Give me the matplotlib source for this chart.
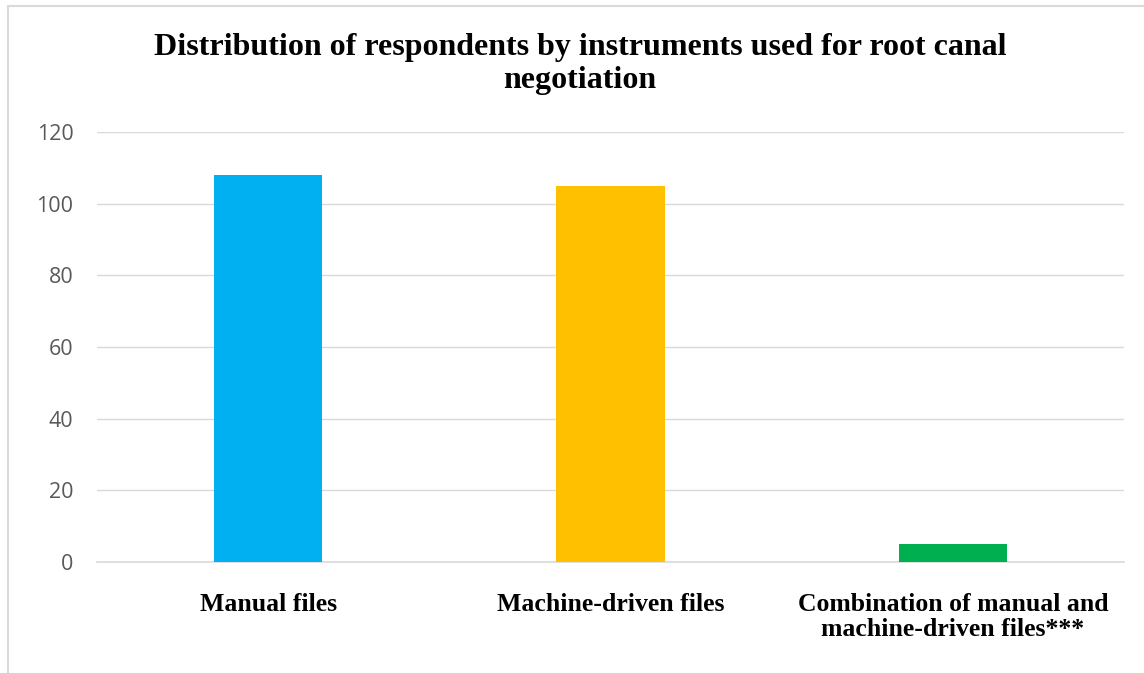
import matplotlib.pyplot as plt
from matplotlib.patches import Rectangle

categories = ["Manual files", "Machine-driven files",
              "Combination of manual and\nmachine-driven files***"]
counts = [108, 105, 5]
colors = ["#00B0F0", "#FFC000", "#00B050"]
yticks = [0, 20, 40, 60, 80, 100, 120]

fig = plt.figure(figsize=(11.44, 6.73), dpi=100)
ax = fig.add_axes([0.0848, 0.165, 0.8977, 0.639])

x = range(len(categories))
ax.bar(x, counts, width=0.316, color=colors, zorder=3)

ax.set_xlim(-0.5, 2.5)
ax.set_ylim(0, 120)
ax.set_yticks(yticks)
ax.set_yticklabels([str(v) for v in yticks], fontsize=15.5, color="#595959",
                   family=["Open Sans", "DejaVu Sans"])
ax.set_xticks(list(x))
ax.set_xticklabels(categories, fontsize=18.5, fontweight="bold",
                   family=["Liberation Serif", "DejaVu Serif"], linespacing=1.15)
ax.tick_params(axis="both", length=0)
ax.tick_params(axis="x", pad=22)
ax.tick_params(axis="y", pad=17)
ax.grid(axis="y", color="#d9d9d9", linewidth=1, zorder=0)
for s in ["top", "right", "left"]:
    ax.spines[s].set_visible(False)
ax.spines["bottom"].set_color("#d9d9d9")
ax.spines["bottom"].set_linewidth(1.2)

fig.text(0.507, 0.905, "Distribution of respondents by instruments used for root canal\nnegotiation",
         ha="center", va="center", fontsize=23, fontweight="bold",
         family=["Liberation Serif", "DejaVu Serif"], linespacing=1.15)

# chart frame (only left and top edges visible)
fig.patches.append(Rectangle((8 / 1144, -0.1), 1.2, 1.1 - 6 / 673, transform=fig.transFigure,
                             fill=False, edgecolor="#d9d9d9", linewidth=1.5))

fig.savefig("out.png", dpi=100)
